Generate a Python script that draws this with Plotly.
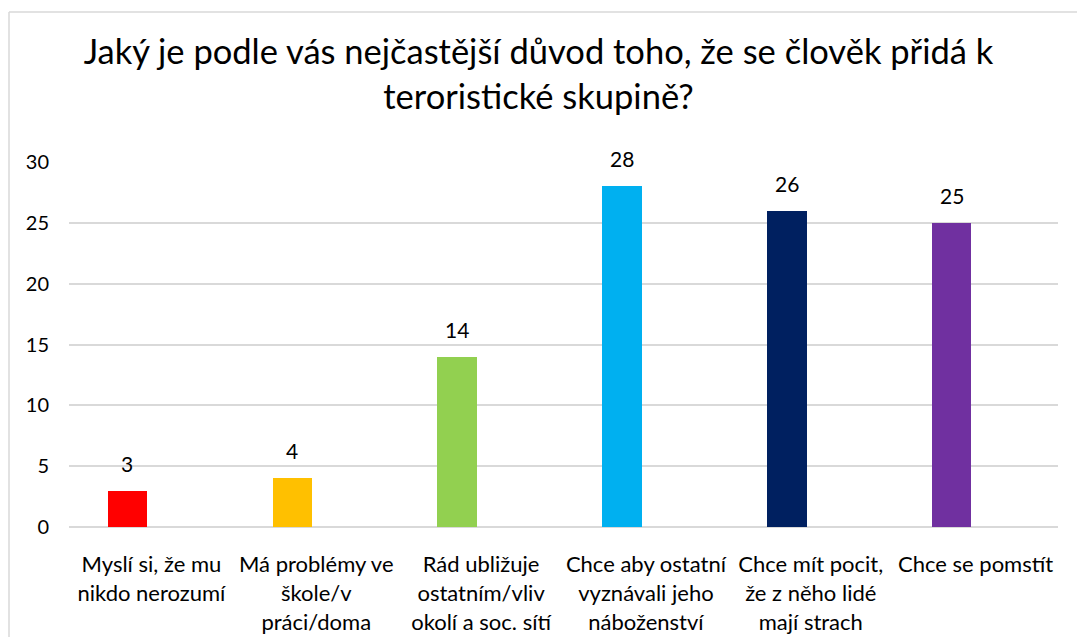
import plotly.graph_objects as go

categories = [
    "Myslí si, že mu<br>nikdo nerozumí",
    "Má problémy ve<br>škole/v<br>práci/doma",
    "Rád ubližuje<br>ostatním/vliv<br>okolí a soc. sítí",
    "Chce aby ostatní<br>vyznávali jeho<br>náboženství",
    "Chce mít pocit,<br>že z něho lidé<br>mají strach",
    "Chce se pomstít",
]
values = [3, 4, 14, 28, 26, 25]
colors = ["#FF0000", "#FFC000", "#92D050", "#00B0F0", "#002060", "#7030A0"]
title_text = "Jaký je podle vás nejčastější důvod toho, že se člověk přidá k<br>teroristické skupině?"

FONT = "Lato"
W, H = 1077, 637
L, T = 69, 162
R = 1077 - 1058
B = 637 - 527
pw, ph = W - L - R, H - T - B

fig = go.Figure()
fig.add_trace(go.Bar(
    x=categories,
    y=values,
    marker=dict(color=colors, line=dict(width=0)),
    offset=-0.265,
    width=0.24,
    hoverinfo="x+y",
))

for c, v in zip(categories, values):
    fig.add_annotation(
        x=c, y=v, text=str(v), showarrow=False,
        xanchor="center", yanchor="bottom",
        xshift=-24, yshift=13,
        font=dict(family=FONT, size=21, color="#000000"),
    )

fig.update_layout(
    width=W,
    height=H,
    margin=dict(l=L, r=R, t=T, b=B, autoexpand=False),
    paper_bgcolor="white",
    plot_bgcolor="white",
    showlegend=False,
    title=dict(
        text=title_text,
        x=0.5,
        xanchor="center",
        y=1 - 64 / H,
        yanchor="middle",
        font=dict(family=FONT, size=34.5, color="#000000"),
    ),
    font=dict(family=FONT, color="#000000"),
    bargap=0,
)

fig.update_xaxes(
    type="category",
    range=[-0.5, 5.5],
    automargin=False,
    showgrid=False,
    showline=False,
    tickfont=dict(family=FONT, size=22, color="#000000"),
    ticks="outside",
    ticklen=18,
    tickcolor="rgba(0,0,0,0)",
    tickangle=0,
)

fig.update_yaxes(
    range=[0, 30],
    dtick=5,
    automargin=False,
    showgrid=True,
    gridcolor="#D9D9D9",
    gridwidth=1.5,
    zeroline=True,
    zerolinecolor="#D9D9D9",
    zerolinewidth=1.5,
    showline=False,
    tickfont=dict(family=FONT, size=20, color="#000000"),
    ticklabelstandoff=19,
)

# chart-area border (top and left visible)
bx = (9 - L) / pw
by = (H - B - 12) / ph
fig.add_shape(
    type="line", xref="paper", yref="paper",
    x0=bx, x1=1.05, y0=by, y1=by,
    line=dict(color="#D9D9D9", width=1.5),
)
fig.add_shape(
    type="line", xref="paper", yref="paper",
    x0=bx, x1=bx, y0=by, y1=-0.5,
    line=dict(color="#D9D9D9", width=1.5),
)

fig.write_html(
    "out.html",
    config={"displayModeBar": False},
    post_script="document.body.style.margin='0';document.body.style.overflow='hidden';",
)
